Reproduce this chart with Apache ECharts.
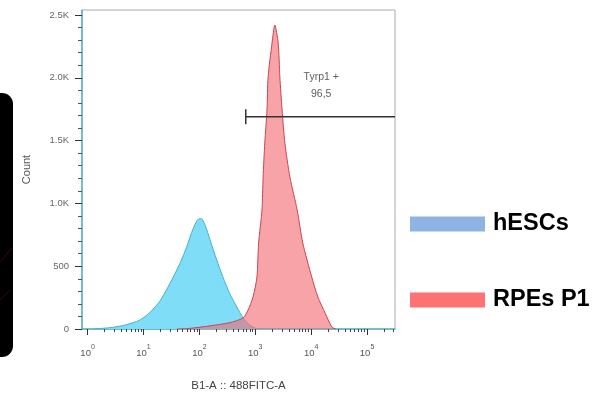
<!DOCTYPE html>
<html>
<head>
<meta charset="utf-8">
<script src="https://cdn.jsdelivr.net/npm/echarts@6/dist/echarts.min.js"></script>
<style>html,body{margin:0;padding:0;background:#fff}#c{width:599px;height:397px}</style>
</head>
<body>
<div id="c"></div>
<script>
// x values are log10 of fluorescence intensity (decades)
const xDecades = [0, 1, 2, 3, 4, 5];
const xMinor = [];
xDecades.forEach(d => { for (let k = 2; k <= 9; k++) { const v = d + Math.log10(k); if (v < 5.5) xMinor.push(v); } });
const yTicks = [0, 500, 1000, 1500, 2000, 2500];
const yTickLabels = ['0', '500', '1.0K', '1.5K', '2.0K', '2.5K'];
const yMinor = [100,200,300,400,600,700,800,900,1100,1200,1300,1400,1600,1700,1800,1900,2100,2200,2300,2400];

const hescX = [0.13, 0.39, 0.66, 0.93, 1.11, 1.29, 1.47, 1.65, 1.77, 1.88, 1.97, 2.03, 2.10, 2.19, 2.31, 2.42, 2.54, 2.67, 2.78, 2.90, 3.01, 3.12];
const hescY = [2, 10, 30, 70, 130, 220, 360, 520, 650, 790, 870, 880, 830, 710, 550, 415, 285, 175, 90, 30, 5, 0];

const rpeX = [1.6, 1.83, 2.19, 2.54, 2.78, 2.87, 2.96, 3.03, 3.06, 3.12, 3.14, 3.17, 3.21, 3.23, 3.30, 3.35, 3.41, 3.44, 3.48, 3.53, 3.62, 3.75, 3.85, 4.01, 4.12, 4.25, 4.37, 4.44];
const rpeY = [0, 5, 25, 50, 88, 150, 255, 414, 685, 947, 1210, 1480, 1744, 2006, 2277, 2420, 2277, 2006, 1744, 1480, 1210, 947, 685, 414, 255, 127, 16, 0];

const gateStart = 2.83, gateEnd = 5.5, gateY = 1690;
const gateLabel = 'Tyrp1 +\n96,5';
const gateLabelPos = [4.18, 1935];
const legendNames = ['hESCs', 'RPEs P1'];
const legendColors = ['#8DB4E2', '#FF7272'];

const chart = echarts.init(document.getElementById('c'), null, {renderer: 'canvas'});
const zip = (a, b) => a.map((v, i) => [v, b[i]]);

chart.setOption({
  animation: false,
  backgroundColor: '#fff',
  grid: {left: 82, right: 204, top: 10, bottom: 68, show: true, borderColor: '#aaa', borderWidth: 1, backgroundColor: 'transparent'},
  xAxis: [{
    type: 'value', min: -0.1, max: 5.5, position: 'bottom',
    splitLine: {show: false},
    axisLine: {onZero: false, lineStyle: {color: '#55b5c6', width: 1.5}},
    axisTick: {customValues: xDecades, length: 6, lineStyle: {color: '#333'}},
    axisLabel: {
      customValues: xDecades, margin: 17,
      formatter: v => '{b|10}{s|' + v + '}',
      rich: {
        b: {fontSize: 9.5, color: '#555', fontFamily: 'Liberation Sans', lineHeight: 12, verticalAlign: 'bottom'},
        s: {fontSize: 7, color: '#555', fontFamily: 'Liberation Sans', lineHeight: 8, verticalAlign: 'bottom', padding: [0, 0, 7, 0]}
      }
    },
    name: 'B1-A :: 488FITC-A', nameLocation: 'middle', nameGap: 51,
    nameTextStyle: {fontSize: 11.5, color: '#444', fontFamily: 'Liberation Sans'}
  }, {
    type: 'value', min: -0.1, max: 5.5, position: 'bottom', offset: 0,
    splitLine: {show: false}, axisLine: {show: false, onZero: false}, axisLabel: {show: false},
    axisTick: {customValues: xMinor, length: 3, lineStyle: {color: '#444'}}
  }],
  yAxis: [{
    type: 'value', min: 0, max: 2540,
    splitLine: {show: false},
    axisLine: {show: true, onZero: false, lineStyle: {color: '#55b5c6', width: 1.5}},
    axisTick: {show: true, customValues: yTicks, length: 7, lineStyle: {color: '#333'}},
    axisLabel: {customValues: yTicks, margin: 13, fontSize: 9.5, color: '#666', fontFamily: 'Liberation Sans',
      formatter: v => yTickLabels[yTicks.indexOf(v)]},
    name: 'Count', nameLocation: 'middle', nameGap: 50, nameRotate: 90,
    nameTextStyle: {fontSize: 11, color: '#555', fontFamily: 'Liberation Sans'}
  }, {
    type: 'value', min: 0, max: 2540, position: 'left', offset: 0,
    splitLine: {show: false}, axisLine: {show: false, onZero: false}, axisLabel: {show: false},
    axisTick: {show: true, customValues: yMinor, length: 4, lineStyle: {color: '#555'}}
  }],
  legend: {
    orient: 'vertical', left: 410, top: 212, padding: 0, itemWidth: 75, itemHeight: 15, itemGap: 52, icon: 'rect',
    selectedMode: false,
    textStyle: {fontFamily: 'Liberation Sans', fontWeight: 'bold', fontSize: 23.5, color: '#000', padding: [0, 0, 0, 3]},
    data: legendNames.map((n, i) => ({name: n, itemStyle: {color: legendColors[i]}}))
  },
  graphic: [
    {type: 'rect', shape: {x: -20, y: 93, width: 33, height: 264, r: 11}, style: {fill: '#000'}, z: 0},
    {type: 'line', shape: {x1: 0, y1: 262, x2: 12, y2: 248}, style: {stroke: '#3a0a0a', lineWidth: 1}, z: 1},
    {type: 'line', shape: {x1: 0, y1: 300, x2: 10, y2: 290}, style: {stroke: '#300808', lineWidth: 1}, z: 1}
  ],
  series: [
    {name: 'hESCs-area', type: 'line', data: zip(hescX, hescY), smooth: 0.25, symbol: 'none',
      lineStyle: {color: '#3fb3cf', width: 1}, areaStyle: {color: '#7FDDF7', opacity: 1}, z: 2},
    {name: 'RPEs-area', type: 'line', data: zip(rpeX, rpeY), smooth: 0.25, symbol: 'none',
      lineStyle: {color: '#c94455', width: 1}, areaStyle: {color: '#F26B73', opacity: 0.62}, z: 3},
    {name: 'gate', type: 'line', data: [[gateStart, gateY], [gateEnd, gateY]], symbol: 'none',
      lineStyle: {color: '#333', width: 1.5}, z: 5, silent: true},
    {name: 'gatecap', type: 'line', data: [[gateStart, gateY - 60], [gateStart, gateY + 60]], symbol: 'none',
      lineStyle: {color: '#333', width: 1.5}, z: 5, silent: true},
    {name: 'gatelabel', type: 'scatter', data: [gateLabelPos], symbolSize: 0,
      label: {show: true, position: 'inside', formatter: gateLabel, fontSize: 10.5, color: '#333',
        fontFamily: 'Liberation Sans', lineHeight: 17, align: 'center'}, z: 6, silent: true},
    {name: legendNames[0], type: 'bar', data: [], itemStyle: {color: legendColors[0]}},
    {name: legendNames[1], type: 'bar', data: [], itemStyle: {color: legendColors[1]}}
  ]
});
</script>
</body>
</html>
